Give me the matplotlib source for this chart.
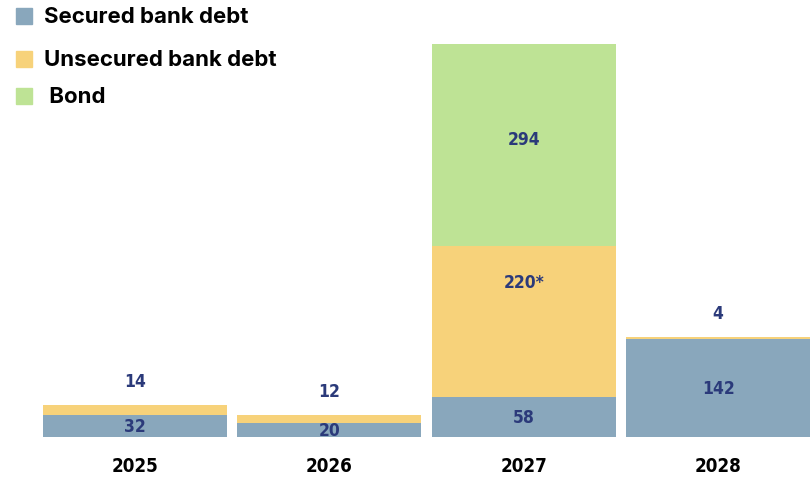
import matplotlib.pyplot as plt
from matplotlib.patches import Rectangle

years = ['2025', '2026', '2027', '2028']
secured = [32, 20, 58, 142]
unsecured = [14, 12, 220, 4]
bond = [0, 0, 294, 0]
unsecured_labels = ['14', '12', '220*', '4']

c_sec = '#89a7bc'
c_unsec = '#f7d27a'
c_bond = '#bee395'
c_lab = '#2b3a7a'
narrow = ['DejaVu Sans']

fig = plt.figure(figsize=(8.1, 4.81), dpi=100)
ax = fig.add_axes([43 / 810, 43 / 481, 767 / 810, 393 / 481])

x = range(len(years))
w = 0.945
ax.bar(x, secured, w, color=c_sec)
ax.bar(x, unsecured, w, bottom=secured, color=c_unsec)
bottom2 = [s + u for s, u in zip(secured, unsecured)]
ax.bar(x, bond, w, bottom=bottom2, color=c_bond)

lab_kw = dict(color=c_lab, fontsize=12.5, fontweight='bold', family=narrow,
              fontstretch='condensed', ha='center', va='center')
for i in x:
    ax.text(i, secured[i] / 2, str(secured[i]), **lab_kw)
    if unsecured[i] < 40:
        ax.annotate(unsecured_labels[i], (i, bottom2[i]), xytext=(0, 24),
                    textcoords='offset pixels', **lab_kw)
    else:
        ax.text(i, secured[i] + unsecured[i] * 0.76, unsecured_labels[i], **lab_kw)
    if bond[i] > 0:
        ax.text(i, bottom2[i] + bond[i] * 0.53, str(bond[i]), **lab_kw)

ax.set_xlim(-0.4725, 3.4725)
ax.set_ylim(0, 572)
ax.set_xticks(list(x))
ax.set_xticklabels(years, fontsize=13.5, fontweight='bold', family=narrow,
                   fontstretch='condensed')
ax.tick_params(length=0, pad=14)
ax.set_yticks([])
for s in ax.spines.values():
    s.set_visible(False)

legend_items = [('Secured bank debt', c_sec, 17), ('Unsecured bank debt', c_unsec, 60),
                (' Bond', c_bond, 97)]
for name, col, yc in legend_items:
    fig.patches.append(Rectangle((16 / 810, 1 - (yc + 8) / 481), 16 / 810, 16 / 481,
                                 transform=fig.transFigure, color=col))
    fig.text(44 / 810, 1 - yc / 481, name, fontsize=16, fontweight='bold',
             family=['Inter', 'DejaVu Sans'], va='center', ha='left')

fig.savefig('out.png', dpi=100)
